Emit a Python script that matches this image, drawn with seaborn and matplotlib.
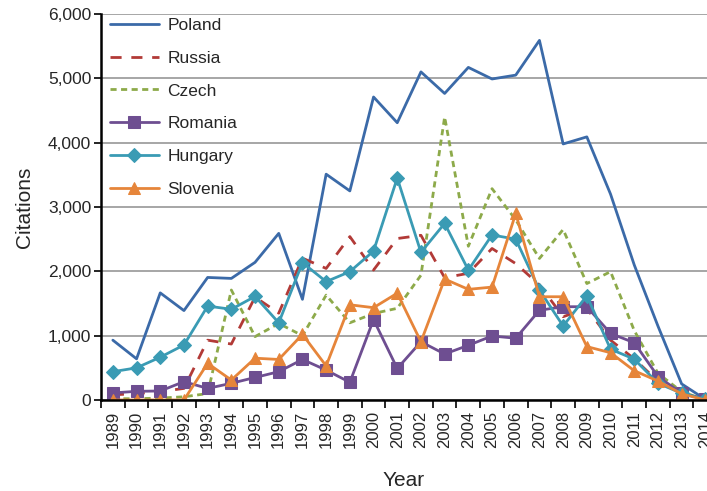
import pandas as pd
import matplotlib
matplotlib.use("Agg")
import matplotlib.pyplot as plt
import seaborn as sns
from matplotlib.ticker import FuncFormatter, FixedLocator

years = list(range(1989, 2015))

poland = [930, 640, 1665, 1390, 1905, 1890, 2140, 2590, 1565, 3510, 3250, 4710, 4310,
          5100, 4765, 5170, 4990, 5050, 5590, 3980, 4090, 3200, 2100, 1150, 250, 10]
russia = [80, 100, 130, 180, 930, 870, 1600, 1350, 2205, 2045, 2540, 2020, 2510,
          2560, 1900, 1970, 2355, 2120, 1790, 1295, 1420, 930, 640, 290, 130, 0]
czech = [20, 20, 30, 50, 100, 1710, 985, 1190, 1000, 1630, 1200, 1345, 1425,
         1940, 4400, 2390, 3285, 2800, 2200, 2650, 1810, 1995, 1080, 415, 130, 0]
romania = [110, 135, 140, 285, 180, 260, 350, 440, 630, 465, 275, 1250, 490,
           905, 715, 850, 995, 960, 1395, 1450, 1450, 1035, 890, 365, 105, 10]
hungary = [440, 500, 665, 855, 1460, 1410, 1610, 1200, 2135, 1840, 1995, 2315, 3450,
           2295, 2745, 2020, 2565, 2500, 1710, 1150, 1620, 790, 635, 260, 105, 10]
slovenia = [0, 0, 0, 0, 570, 310, 650, 630, 1020, 530, 1480, 1435, 1660,
            905, 1880, 1720, 1755, 2900, 1605, 1605, 830, 735, 455, 295, 95, 0]

countries = ["Poland", "Russia", "Czech", "Romania", "Hungary", "Slovenia"]
values = [poland, russia, czech, romania, hungary, slovenia]
colors = ["#3B6AA8", "#B23A37", "#8DAA4A", "#6E4E91", "#3A9BB4", "#E6853A"]
styles = {
    "Poland": dict(marker=None, dashes=None),
    "Russia": dict(marker=None, dashes=(4, 3.5)),
    "Czech": dict(marker=None, dashes=(2.2, 1.6)),
    "Romania": dict(marker="s", dashes=None, ms=8.5),
    "Hungary": dict(marker="D", dashes=None, ms=7),
    "Slovenia": dict(marker="^", dashes=None, ms=9),
}

df = pd.DataFrame({
    "pos": list(range(len(years))) * len(countries),
    "Citations": [v for vals in values for v in vals],
    "country": [c for c in countries for _ in years],
})

sns.set_style("white")
plt.rcParams["font.family"] = ["Liberation Sans", "DejaVu Sans"]

fig = plt.figure(figsize=(7.07, 4.91), dpi=100)
ax = fig.add_axes([101 / 707, 1 - 400 / 491, 1 - 101 / 707, (400 - 14) / 491])

for country, color in zip(countries, colors):
    st = styles[country]
    sub = df[df["country"] == country]
    kw = dict(color=color, linewidth=2.0, label=country)
    if st["marker"]:
        kw.update(marker=st["marker"], markersize=st["ms"], markeredgecolor=color)
    sns.lineplot(data=sub, x="pos", y="Citations", ax=ax, **kw)
    if st["dashes"]:
        ax.lines[-1].set_dashes(st["dashes"])

ax.set_xlim(-0.5, 25.07)
ax.set_ylim(0, 6000)
ax.set_yticks(range(0, 6001, 1000))
ax.yaxis.set_major_formatter(FuncFormatter(lambda v, p: f"{int(v):,}"))
ax.yaxis.grid(True, color="#A6A6A6", linewidth=1.4)
ax.set_axisbelow(True)

ax.set_xticks(range(len(years)))
ax.set_xticklabels([str(y) for y in years], rotation=90)
ax.xaxis.set_minor_locator(FixedLocator([i - 0.5 for i in range(len(years) + 1)]))
ax.tick_params(axis="x", which="major", length=0, labelsize=12, pad=8)
ax.tick_params(axis="x", which="minor", length=6, width=1.2, color="black", direction="out", bottom=True)
ax.tick_params(axis="y", which="major", length=5, width=1.2, color="black", direction="out",
               labelsize=12.5, left=True, pad=2)

for s in ["top", "right"]:
    ax.spines[s].set_visible(False)
for s in ["left", "bottom"]:
    ax.spines[s].set_color("black")
    ax.spines[s].set_linewidth(1.8)

ax.set_xlabel("Year", fontsize=15, labelpad=16)
ax.set_ylabel("Citations", fontsize=15, labelpad=10)

ax.legend(loc="upper left", frameon=False, fontsize=12.5, handlelength=2.8,
          handletextpad=0.5, labelspacing=1.02, bbox_to_anchor=(-0.005, 1.022),
          borderaxespad=0.3)

fig.savefig("out.png", dpi=100)
